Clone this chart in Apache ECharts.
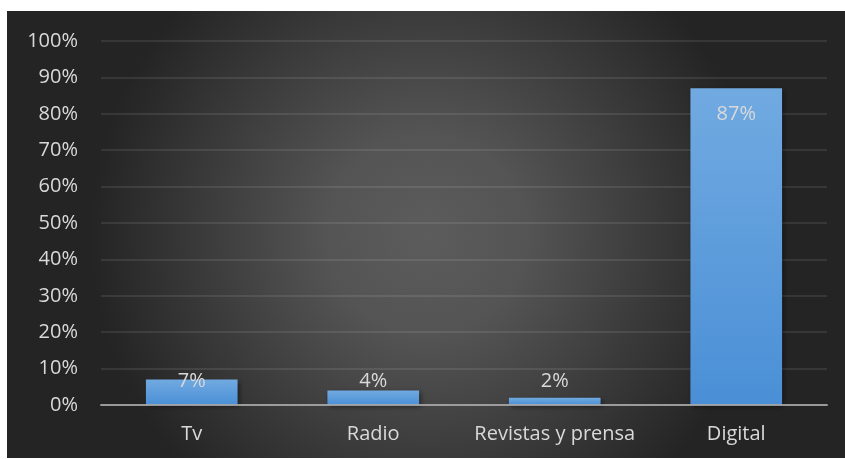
<!DOCTYPE html>
<html>
<head>
<meta charset="utf-8">
<script src="https://cdn.jsdelivr.net/npm/echarts@6/dist/echarts.min.js"></script>
<style>
  html, body { margin: 0; padding: 0; background: #ffffff; }
  #chart { width: 845px; height: 459px; }
</style>
</head>
<body>
<div id="chart"></div>
<script>
// Share of each media channel
const categories = ['Tv', 'Radio', 'Revistas y prensa', 'Digital'];
const shares = [7, 4, 2, 87];
const yTicks = [0, 10, 20, 30, 40, 50, 60, 70, 80, 90, 100];

const textColor = '#d9d9d9';
const fontFamily = '"Open Sans", "Noto Sans", sans-serif';
const fontSize = 20;

const chart = echarts.init(document.getElementById('chart'));

// Small bars keep their label just above the baseline; tall bars show it inside the top
const barData = shares.map(function (v) {
  const tall = v > 20;
  return {
    value: v,
    label: tall
      ? { position: 'insideTop', distance: 16 }
      : { position: 'insideBottom', distance: 14 }
  };
});

chart.setOption({
  backgroundColor: '#ffffff',
  animation: false,
  graphic: [{
    type: 'rect',
    z: -10,
    silent: true,
    shape: { x: 7, y: 11, width: 838, height: 447 },
    style: {
      fill: new echarts.graphic.RadialGradient(0.5, 0.5, 0.75, [
        { offset: 0, color: '#5c5c5c' },
        { offset: 0.3, color: '#545454' },
        { offset: 1, color: '#242424' }
      ])
    }
  }],
  grid: { left: 101, right: 18, top: 41, bottom: 54, containLabel: false },
  xAxis: {
    type: 'category',
    data: categories,
    z: 5,
    axisLine: { show: true, lineStyle: { color: 'rgba(170,170,170,0.85)', width: 2 } },
    axisTick: { show: false },
    axisLabel: { interval: 0, color: textColor, fontSize: fontSize, fontFamily: fontFamily, margin: 19 }
  },
  yAxis: {
    type: 'value',
    min: yTicks[0],
    max: yTicks[yTicks.length - 1],
    interval: yTicks[1] - yTicks[0],
    axisLine: { show: false },
    axisTick: { show: false },
    axisLabel: {
      color: textColor, fontSize: fontSize, fontFamily: fontFamily, margin: 23,
      formatter: function (v) { return v + '%'; }
    },
    splitLine: { lineStyle: { color: 'rgba(255,255,255,0.09)', width: 2 } }
  },
  series: [{
    type: 'bar',
    data: barData,
    barWidth: '50.5%',
    itemStyle: {
      color: new echarts.graphic.LinearGradient(0, 0, 0, 1, [
        { offset: 0, color: '#71aae1' },
        { offset: 1, color: '#4a8fd6' }
      ]),
      shadowColor: 'rgba(0,0,0,0.45)',
      shadowBlur: 5,
      shadowOffsetX: 2,
      shadowOffsetY: 2
    },
    label: {
      show: true,
      color: textColor,
      fontSize: fontSize,
      fontFamily: fontFamily,
      formatter: function (p) { return p.value + '%'; }
    }
  }]
});
</script>
</body>
</html>
